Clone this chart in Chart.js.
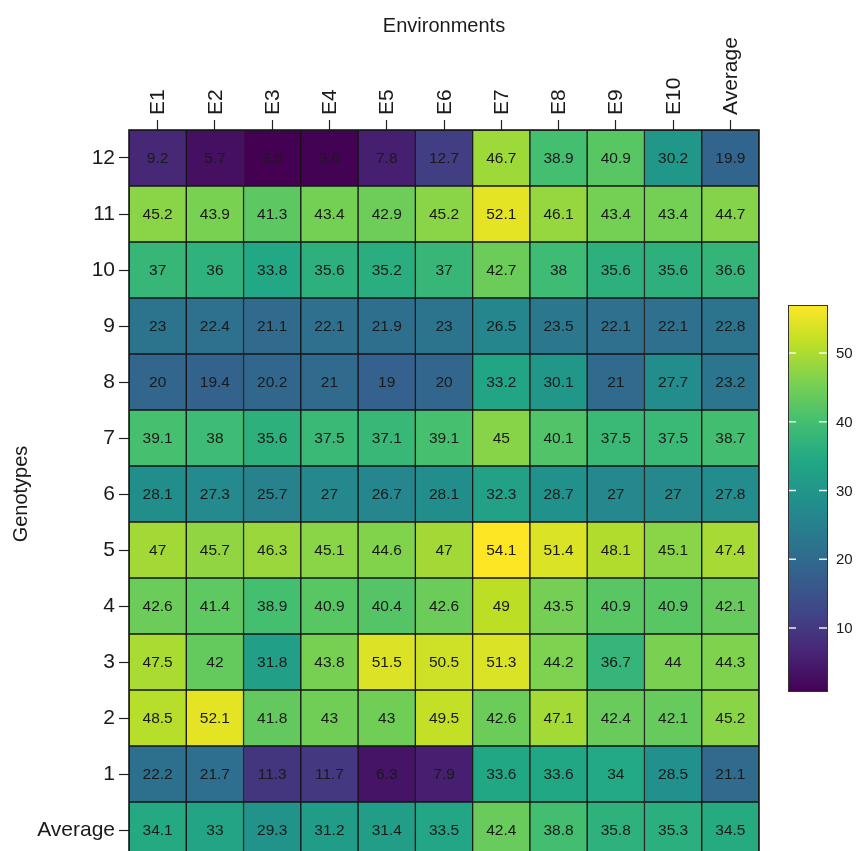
<!DOCTYPE html>
<html>
<head>
<meta charset="utf-8">
<script src="https://cdn.jsdelivr.net/npm/chart.js@4/dist/chart.umd.min.js"></script>
<style>
html,body{margin:0;padding:0;background:#fff;overflow:hidden;}
#wrap{width:857px;height:858px;}
</style>
</head>
<body>
<div id="wrap"><canvas id="c" width="857" height="858"></canvas></div>
<script>
// ---- data ----
const environments = ['E1','E2','E3','E4','E5','E6','E7','E8','E9','E10','Average'];
// rows listed bottom-to-top
const rowLabels = ['Average','1','2','3','4','5','6','7','8','9','10','11','12'];
const gAvg = [34.1, 33, 29.3, 31.2, 31.4, 33.5, 42.4, 38.8, 35.8, 35.3, 34.5];
const g1  = [22.2, 21.7, 11.3, 11.7, 6.3, 7.9, 33.6, 33.6, 34, 28.5, 21.1];
const g2  = [48.5, 52.1, 41.8, 43, 43, 49.5, 42.6, 47.1, 42.4, 42.1, 45.2];
const g3  = [47.5, 42, 31.8, 43.8, 51.5, 50.5, 51.3, 44.2, 36.7, 44, 44.3];
const g4  = [42.6, 41.4, 38.9, 40.9, 40.4, 42.6, 49, 43.5, 40.9, 40.9, 42.1];
const g5  = [47, 45.7, 46.3, 45.1, 44.6, 47, 54.1, 51.4, 48.1, 45.1, 47.4];
const g6  = [28.1, 27.3, 25.7, 27, 26.7, 28.1, 32.3, 28.7, 27, 27, 27.8];
const g7  = [39.1, 38, 35.6, 37.5, 37.1, 39.1, 45, 40.1, 37.5, 37.5, 38.7];
const g8  = [20, 19.4, 20.2, 21, 19, 20, 33.2, 30.1, 21, 27.7, 23.2];
const g9  = [23, 22.4, 21.1, 22.1, 21.9, 23, 26.5, 23.5, 22.1, 22.1, 22.8];
const g10 = [37, 36, 33.8, 35.6, 35.2, 37, 42.7, 38, 35.6, 35.6, 36.6];
const g11 = [45.2, 43.9, 41.3, 43.4, 42.9, 45.2, 52.1, 46.1, 43.4, 43.4, 44.7];
const g12 = [9.2, 5.7, 3.5, 3.6, 7.8, 12.7, 46.7, 38.9, 40.9, 30.2, 19.9];
const rows = [gAvg, g1, g2, g3, g4, g5, g6, g7, g8, g9, g10, g11, g12];
const cbMin = 0.7, cbMax = 57;
const cbTicks = [10, 20, 30, 40, 50];

// ---- viridis ----
const vir = ['#440154','#482475','#414487','#355f8d','#2a788e','#21918c','#22a884','#44bf70','#7ad151','#bddf26','#fde725'];
function hex2rgb(h){return [parseInt(h.slice(1,3),16),parseInt(h.slice(3,5),16),parseInt(h.slice(5,7),16)];}
const virRGB = vir.map(hex2rgb);
function viridis(t){
  t = Math.max(0, Math.min(1, t));
  const p = t * (virRGB.length - 1);
  const i = Math.min(Math.floor(p), virRGB.length - 2);
  const f = p - i;
  const a = virRGB[i], b = virRGB[i+1];
  return 'rgb(' + [0,1,2].map(k => Math.round(a[k] + (b[k]-a[k])*f)).join(',') + ')';
}
const allVals = rows.flat();
const vMin = Math.min(...allVals), vMax = Math.max(...allVals);
const colorOf = v => viridis((v - vMin) / (vMax - vMin));

const FONT = "'Liberation Sans', Arial, Helvetica, sans-serif";
const TXT = '#1a1a1a';

const datasets = rows.map((vals, r) => ({
  label: rowLabels[r],
  data: vals.map(() => [r - 0.5, r + 0.5]),
  cellValues: vals,
  backgroundColor: vals.map(colorOf),
  borderColor: '#151515',
  borderWidth: 1,
  borderSkipped: false,
  grouped: false,
  barPercentage: 1,
  categoryPercentage: 1
}));

const cellLabels = {
  id: 'cellLabels',
  afterDatasetsDraw(chart) {
    const ctx = chart.ctx;
    ctx.save();
    ctx.font = '15.5px ' + FONT;
    ctx.fillStyle = TXT;
    ctx.textAlign = 'center';
    ctx.textBaseline = 'middle';
    chart.data.datasets.forEach((ds, di) => {
      const meta = chart.getDatasetMeta(di);
      meta.data.forEach((el, i) => {
        const p = el.getCenterPoint();
        ctx.fillText(String(ds.cellValues[i]), p.x, p.y + 1);
      });
    });
    const a = chart.chartArea;
    ctx.strokeStyle = '#1a1a1a';
    ctx.lineWidth = 1.6;
    ctx.strokeRect(a.left, a.top, a.right - a.left, a.bottom - a.top);
    ctx.restore();
  }
};

const colorBar = {
  id: 'colorBar',
  afterDraw(chart) {
    const ctx = chart.ctx;
    const a = chart.chartArea;
    const x0 = a.right + 29, w = 40, y0 = 305, y1 = 692;
    ctx.save();
    const g = ctx.createLinearGradient(0, y1, 0, y0);
    vir.forEach((c, i) => g.addColorStop(i / (vir.length - 1), c));
    ctx.fillStyle = g;
    ctx.fillRect(x0, y0, w, y1 - y0);
    ctx.strokeStyle = '#333';
    ctx.lineWidth = 1;
    ctx.strokeRect(x0 + 0.5, y0 + 0.5, w - 1, y1 - y0 - 1);
    ctx.font = '15px ' + FONT;
    ctx.fillStyle = TXT;
    ctx.textAlign = 'left';
    ctx.textBaseline = 'middle';
    cbTicks.forEach(v => {
      const y = y1 - (v - cbMin) / (cbMax - cbMin) * (y1 - y0);
      ctx.strokeStyle = 'rgba(255,255,255,0.9)';
      ctx.lineWidth = 1.5;
      ctx.beginPath();
      ctx.moveTo(x0 + 1, y); ctx.lineTo(x0 + 8, y);
      ctx.moveTo(x0 + w - 9, y); ctx.lineTo(x0 + w - 1, y);
      ctx.stroke();
      ctx.fillText(String(v), x0 + 48, y + 1);
    });
    ctx.restore();
  }
};

Chart.defaults.font.family = FONT;
Chart.defaults.color = TXT;

new Chart(document.getElementById('c'), {
  type: 'bar',
  data: { labels: environments, datasets: datasets },
  options: {
    responsive: false,
    animation: false,
    layout: { padding: { left: 0, top: 0, right: 98, bottom: 0 } },
    plugins: { legend: { display: false }, tooltip: { enabled: false } },
    scales: {
      x: {
        type: 'category',
        position: 'top',
        offset: true,
        grid: { offset: false, drawOnChartArea: false, drawTicks: true, tickLength: 10, tickColor: '#222', tickWidth: 1.2 },
        border: { display: false },
        ticks: { minRotation: 90, maxRotation: 90, autoSkip: false, padding: 5, labelOffset: 26, color: TXT, font: { size: 21 } },
        title: { display: true, text: 'Environments', color: TXT, font: { size: 20 }, padding: { top: 14, bottom: 0 } },
        afterFit(s) { s.height = 130; s.paddingLeft = 0; s.paddingRight = 0; }
      },
      y: {
        type: 'linear',
        min: -0.5,
        max: 12.5,
        afterBuildTicks(s) { s.ticks = rowLabels.map((_, i) => ({ value: i })); },
        grid: { drawOnChartArea: false, drawTicks: true, tickLength: 10, tickColor: '#222', tickWidth: 1.2 },
        border: { display: false },
        ticks: { padding: 4, color: TXT, font: { size: 21 }, callback: v => rowLabels[v] },
        title: { display: true, text: 'Genotypes', color: TXT, font: { size: 20 }, padding: { top: 9, bottom: 0 } },
        afterFit(s) { s.width = 129; s.paddingTop = 0; s.paddingBottom = 0; }
      }
    }
  },
  plugins: [cellLabels, colorBar]
});
</script>
</body>
</html>
